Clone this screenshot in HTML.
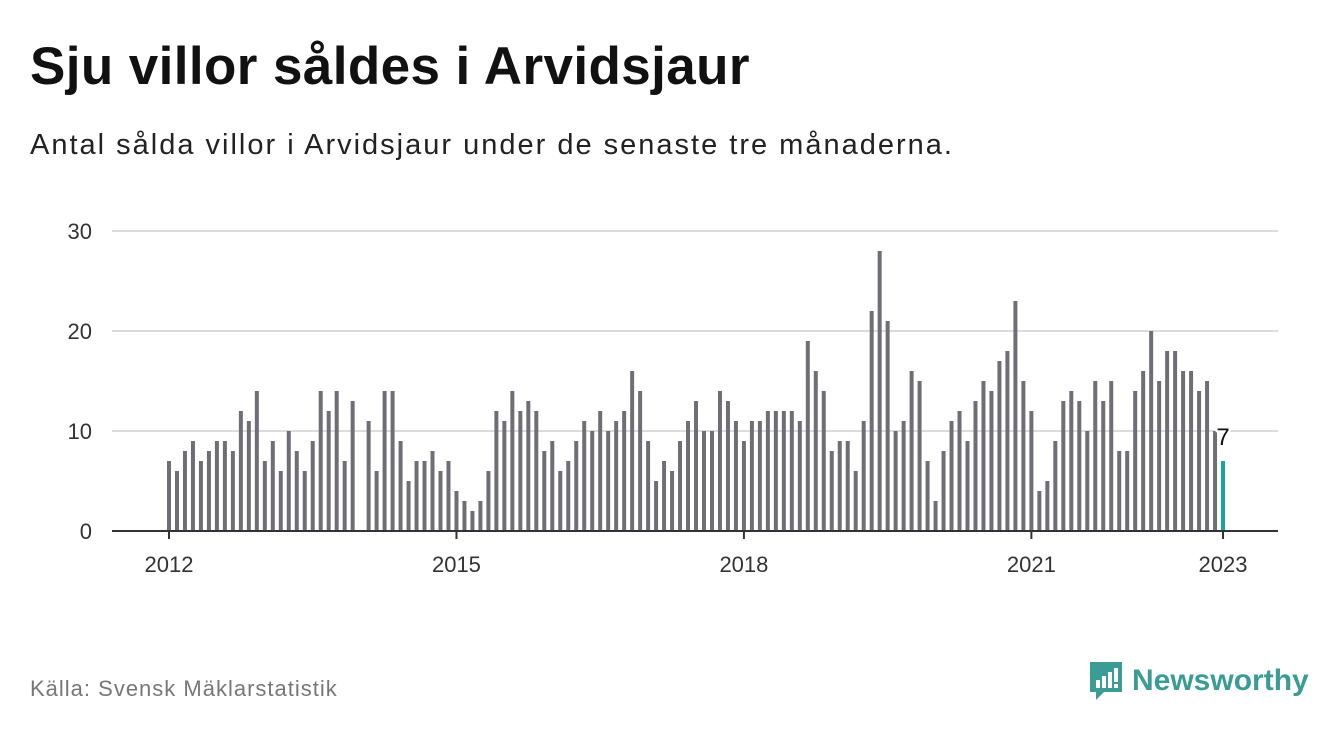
<!DOCTYPE html>
<html><head><meta charset="utf-8"><style>
body{margin:0;width:1340px;height:734px;background:#fff;font-family:"Liberation Sans","DejaVu Sans",sans-serif;overflow:hidden;position:relative}
h1{position:absolute;left:30px;top:36px;margin:0;font-size:53px;font-weight:bold;color:#111;letter-spacing:0.4px;white-space:nowrap}
.sub{position:absolute;left:30px;top:129px;font-size:29px;color:#222;letter-spacing:2px;white-space:nowrap}
.src{position:absolute;left:30px;top:676px;font-size:22px;color:#777;letter-spacing:1px}
.logo{position:absolute;left:1088px;top:660px;display:flex;align-items:center}
.logo span{font-size:30px;font-weight:bold;color:#3a9c94;margin-left:8px}
</style></head><body>
<h1>Sju villor såldes i Arvidsjaur</h1>
<div class="sub">Antal sålda villor i Arvidsjaur under de senaste tre månaderna.</div>
<svg id="chart" width="1340" height="734" style="position:absolute;left:0;top:0"></svg>
<div class="src">Källa: Svensk Mäklarstatistik</div>
<div class="logo">
<svg width="36" height="42" viewBox="0 0 36 42"><path d="M2 2h32v30H16l-8 8v-8H2z" fill="#3a9c94"/><rect x="8" y="20" width="4" height="8" fill="#fff"/><rect x="14" y="16" width="4" height="12" fill="#fff"/><rect x="20" y="12" width="4" height="16" fill="#fff"/><rect x="26" y="8" width="4" height="14" fill="#fff"/><rect x="26" y="24" width="4" height="4" fill="#fff"/></svg>
<span>Newsworthy</span></div>
<script>
const values=[7,6,8,9,7,8,9,9,8,12,11,14,
7,9,6,10,8,6,9,14,12,14,7,13,
0,11,6,14,14,9,5,7,7,8,6,7,
4,3,2,3,6,12,11,14,12,13,12,8,
9,6,7,9,11,10,12,10,11,12,16,14,
9,5,7,6,9,11,13,10,10,14,13,11,
9,11,11,12,12,12,12,11,19,16,14,8,
9,9,6,11,22,28,21,10,11,16,15,7,
3,8,11,12,9,13,15,14,17,18,23,15,
12,4,5,9,13,14,13,10,15,13,15,8,
8,14,16,20,15,18,18,16,16,14,15,10,
7];
const yTicks=[0,10,20,30];
const xTickYears=[2012,2015,2018,2021,2023];
const startYear=2012;
const NS="http://www.w3.org/2000/svg";
const svg=document.getElementById('chart');
const x0=169,step=7.985,yBase=531,yScale=10;
const xPos=i=>x0+i*step;
const yPos=v=>yBase-v*yScale;
function mk(t,a){const e=document.createElementNS(NS,t);for(const k in a)e.setAttribute(k,a[k]);svg.appendChild(e);return e;}
yTicks.forEach(t=>{
 if(t>0){const g=mk('line',{x1:112,x2:1278,y1:yPos(t),y2:yPos(t),stroke:'#dcdcdc','stroke-width':2});
 
 }
 const l=mk('text',{x:92,y:yPos(t)+8,'text-anchor':'end','font-size':22,fill:'#333','font-family':'Liberation Sans, sans-serif'});
 l.textContent=t;
 
 
});
values.forEach((v,i)=>{
 const last=i===values.length-1;
 const r=mk('rect',{x:xPos(i)-2,y:yPos(v),width:4,height:v*yScale,fill:last?'#18a59b':'#6f6e76'});
 
 
});
const ax=mk('line',{x1:112,x2:1278,y1:yBase,y2:yBase,stroke:'#333','stroke-width':2});


xTickYears.forEach(y=>{
 const x=xPos((y-startYear)*12);
 const tk=mk('line',{x1:x,x2:x,y1:yBase,y2:yBase+8,stroke:'#333','stroke-width':2});
 
 
 const l=mk('text',{x:x,y:572,'text-anchor':'middle','font-size':22,fill:'#333','font-family':'Liberation Sans, sans-serif'});
 l.textContent=y;
 
 
});
const lv=values[values.length-1];
const lab=mk('text',{x:xPos(values.length-1),y:yPos(lv)-16,'text-anchor':'middle','font-size':24,fill:'#111',stroke:'#fff','stroke-width':4,'paint-order':'stroke','font-family':'Liberation Sans, sans-serif'});
lab.textContent=lv;


</script>
</body></html>
